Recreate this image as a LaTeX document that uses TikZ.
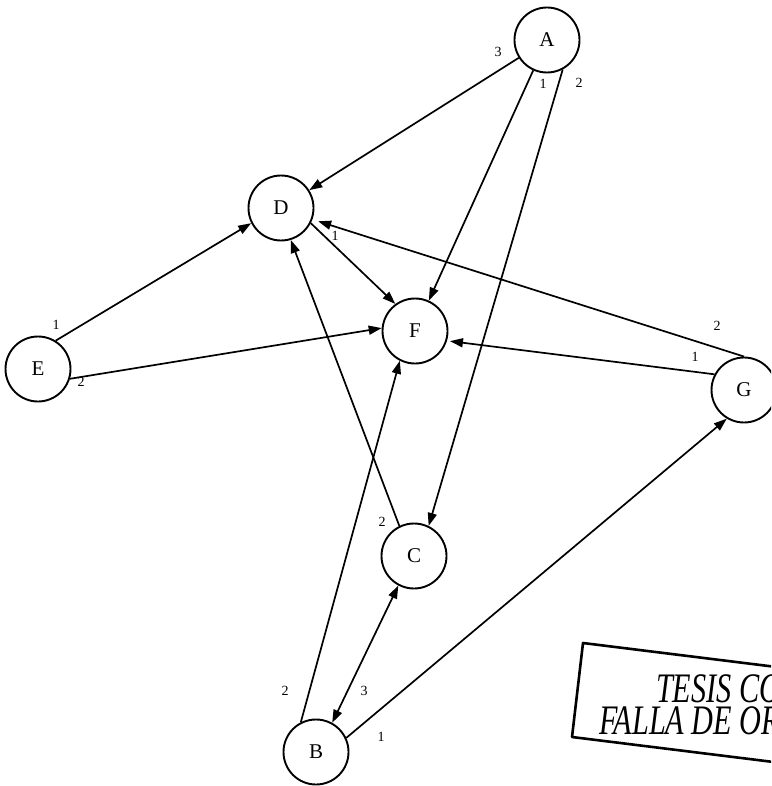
\documentclass[tikz,border=0pt]{standalone}
\usepackage{fontspec}
\setmainfont{Liberation Serif}
\usetikzlibrary{arrows.meta}
\tikzset{
  vertex/.style={circle, draw, line width=1.9pt, minimum size=65pt, inner sep=0pt, font=\fontsize{21}{24}\selectfont},
  arr/.style={line width=1.7pt, -{Triangle[length=13pt,width=9pt]}},
  arrboth/.style={line width=1.7pt, {Triangle[length=13pt,width=9pt]}-{Triangle[length=13pt,width=9pt]}},
  lab/.style={inner sep=0pt, font=\fontsize{14}{16}\selectfont},
  stampbox/.style={line width=2.6pt, line join=round},
  stamptext/.style={inner sep=0pt, anchor=base west, xscale=0.72, font=\fontsize{42}{44}\selectfont\itshape}
}
\begin{document}
\begin{tikzpicture}[x=1pt,y=-1pt]
\useasboundingbox (0,0) rectangle (771,786);
\clip (0,0) rectangle (771,786);
\fill[white] (0,0) rectangle (771,786);

% nodes
\node[vertex] (A) at (547,40) {A};
\node[vertex] (D) at (281,208) {D};
\node[vertex] (E) at (38,369) {E};
\node[vertex] (F) at (415,331) {F};
\node[vertex] (G) at (744,390) {G};
\node[vertex] (C) at (414,556) {C};
\node[vertex] (B) at (316,752) {B};

% connectors
\draw[arr] (A) -- (D);
\draw[arr] (A) -- (F);
\draw[arr] (A.-62) -- (C.64);
\draw[arr] (D.-27) -- (F.126);
\draw[arr] (E.58) -- (D.207);
\draw[arr] (E.-17) -- (F.175);
\draw[arr, shorten >=6pt] (G.90) -- (D.-20);
\draw[arr, shorten >=3pt] (G.152) -- (F.-17);
\draw[arr] (C.116) -- (D.-73);
\draw[arr] (B.117) -- (F.-117);
\draw[arrboth] (B.61) -- (C.-118);
\draw[arr] (B.25) -- (G.-121);

% port labels
\node[lab] (la3) at (498,52) {3};
\node[lab] (la1) at (543,84) {1};
\node[lab] (la2) at (579,83) {2};
\node[lab] (ld1) at (335,236) {1};
\node[lab] (le1) at (56,325) {1};
\node[lab] (le2) at (81,382) {2};
\node[lab] (lg2) at (717,326) {2};
\node[lab] (lg1) at (695,357) {1};
\node[lab] (lc2) at (382,522) {2};
\node[lab] (lb2) at (285,691) {2};
\node[lab] (lb3) at (364,691) {3};
\node[lab] (lb1) at (381,737) {1};

% stamp
\draw[stampbox] (841,675) -- (583,643) -- (572,737) -- (830,769);
\node[stamptext] (t1) at (656,702) {TESIS CON};
\node[stamptext] (t2) at (599,734) {FALLA DE ORIGEN};
\end{tikzpicture}
\end{document}
